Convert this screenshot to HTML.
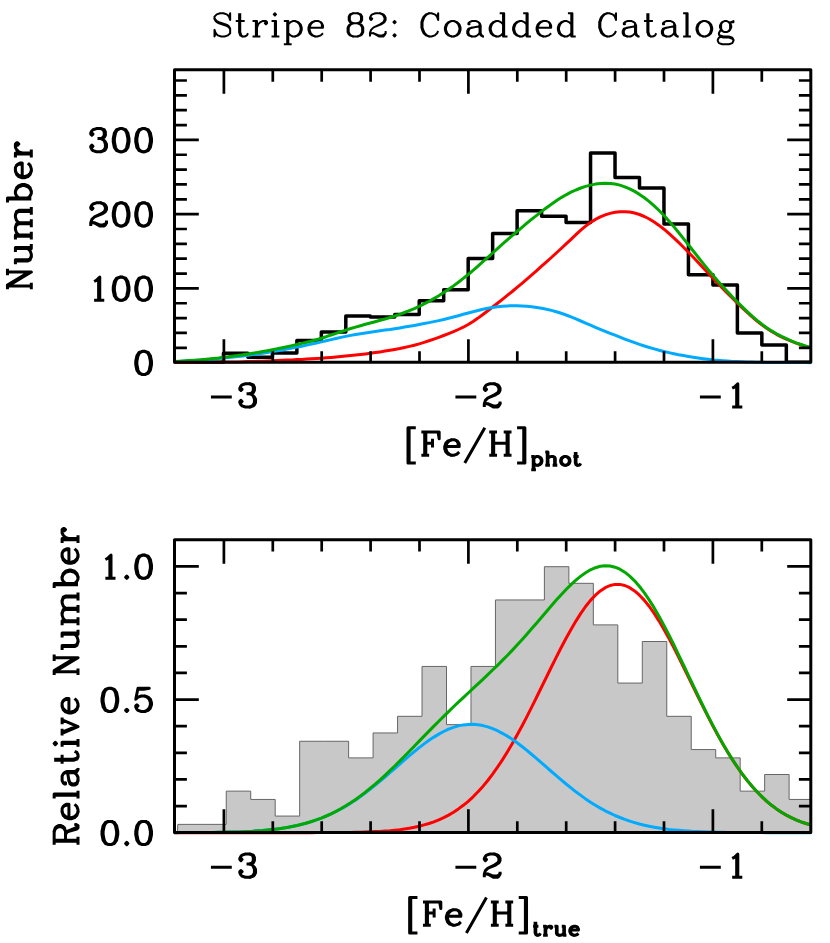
<!DOCTYPE html>
<html><head><meta charset="utf-8"><title>Stripe 82: Coadded Catalog</title>
<style>html,body{margin:0;padding:0;background:#fff;font-family:"Liberation Sans",sans-serif}svg{display:block}</style></head>
<body>
<svg width="830" height="943" viewBox="0 0 830 943">
<rect width="830" height="943" fill="#fff"/>
<g id="top">
<path d="M174.5 362.3L223.45 362.3L223.45 353.3L247.92 353.3L247.92 357.3L272.39 357.3L272.39 352.9L296.87 352.9L296.87 340.4L321.34 340.4L321.34 332L345.81 332L345.81 315.9L370.28 315.9L370.28 317L394.76 317L394.76 314.5L419.23 314.5L419.23 300.7L443.7 300.7L443.7 289.8L468.18 289.8L468.18 258.6L492.65 258.6L492.65 233.4L517.12 233.4L517.12 210.8L541.6 210.8L541.6 216.2L566.07 216.2L566.07 222.4L590.54 222.4L590.54 152.9L615.02 152.9L615.02 177.6L639.49 177.6L639.49 188L663.96 188L663.96 224L688.43 224L688.43 274.7L712.91 274.7L712.91 285.1L737.38 285.1L737.38 333L761.85 333L761.85 344.9L786.33 344.9L786.33 362.3L810.8 362.3" fill="none" stroke="#000" stroke-width="3.5" stroke-linejoin="round" stroke-linecap="butt"/>
<path d="M174.5 362.5L179.4 362.5L184.3 362.4L189.2 362.4L194.1 362.4L199 362.3L203.9 362.3L208.8 362.3L213.7 362.2L218.6 362.2L223.4 362.1L228.3 362L233.2 362L238.1 361.9L243 361.8L247.9 361.6L252.8 361.5L257.7 361.3L262.6 361.2L267.5 361L272.4 360.8L277.3 360.6L282.2 360.3L287.1 360.1L292 359.9L296.9 359.6L301.8 359.4L306.7 359.1L311.5 358.8L316.4 358.5L321.3 358.2L326.2 357.8L331.1 357.4L336 357L340.9 356.5L345.8 356L350.7 355.5L355.6 355L360.5 354.5L365.4 353.9L370.3 353.3L375.2 352.6L380.1 351.9L385 351.1L389.9 350.3L394.8 349.4L399.7 348.5L404.5 347.5L409.4 346.4L414.3 345.2L419.2 343.9L424.1 342.4L429 340.8L433.9 339.1L438.8 337.3L443.7 335.5L448.6 333.6L453.5 331.7L458.4 329.5L463.3 327.2L468.2 324.5L473.1 321.5L478 318.1L482.9 314.5L487.8 310.8L492.6 307L497.5 303.2L502.4 299.3L507.3 295.4L512.2 291.5L517.1 287.4L522 283.3L526.9 279.1L531.8 274.9L536.7 270.6L541.6 266.2L546.5 261.9L551.4 257.5L556.3 253L561.2 248.5L566.1 243.9L571 239.3L575.9 234.7L580.8 230.2L585.6 226.1L590.5 222.5L595.4 219.4L600.3 216.9L605.2 214.9L610.1 213.4L615 212.3L619.9 211.8L624.8 211.7L629.7 212.1L634.6 213L639.5 214.5L644.4 216.5L649.3 219L654.2 222L659.1 225.4L664 229.2L668.9 233.4L673.8 237.8L678.6 242.4L683.5 247.2L688.4 252.2L693.3 257.3L698.2 262.5L703.1 267.7L708 273L712.9 278.2L717.8 283.3L722.7 288.4L727.6 293.4L732.5 298.3L737.4 303.1L742.3 307.9L747.2 312.5L752.1 316.9L757 321L761.9 324.9L766.7 328.3L771.6 331.5L776.5 334.3L781.4 336.9L786.3 339.2L791.2 341.2L796.1 343.1L801 344.8L805.9 346.4L810.8 347.8" fill="none" stroke="#ff0000" stroke-width="3" stroke-linejoin="round" stroke-linecap="butt"/>
<path d="M174.5 361.6L179.4 361.4L184.3 361.1L189.2 360.8L194.1 360.5L199 360.2L203.9 359.8L208.8 359.4L213.7 358.9L218.6 358.5L223.4 358L228.3 357.5L233.2 357L238.1 356.5L243 355.9L247.9 355.3L252.8 354.6L257.7 353.9L262.6 353.2L267.5 352.4L272.4 351.6L277.3 350.8L282.2 349.9L287.1 349L292 348.1L296.9 347.1L301.8 346.2L306.7 345.1L311.5 344.1L316.4 343L321.3 341.9L326.2 340.8L331.1 339.6L336 338.5L340.9 337.4L345.8 336.4L350.7 335.4L355.6 334.5L360.5 333.7L365.4 332.9L370.3 332.2L375.2 331.5L380.1 330.8L385 330.1L389.9 329.5L394.8 328.7L399.7 327.9L404.5 327.1L409.4 326.3L414.3 325.4L419.2 324.5L424.1 323.6L429 322.6L433.9 321.6L438.8 320.6L443.7 319.5L448.6 318.2L453.5 317L458.4 315.7L463.3 314.3L468.2 313L473.1 311.7L478 310.5L482.9 309.3L487.8 308.3L492.6 307.4L497.5 306.8L502.4 306.2L507.3 305.9L512.2 305.7L517.1 305.7L522 305.9L526.9 306.2L531.8 306.7L536.7 307.4L541.6 308.2L546.5 309.2L551.4 310.4L556.3 311.7L561.2 313.3L566.1 315L571 316.9L575.9 318.9L580.8 321L585.6 323.1L590.5 325.2L595.4 327.3L600.3 329.3L605.2 331.3L610.1 333.3L615 335.2L619.9 337.2L624.8 339.1L629.7 340.9L634.6 342.7L639.5 344.4L644.4 346L649.3 347.5L654.2 348.9L659.1 350.2L664 351.5L668.9 352.6L673.8 353.7L678.6 354.7L683.5 355.6L688.4 356.5L693.3 357.3L698.2 358L703.1 358.7L708 359.3L712.9 359.9L717.8 360.3L722.7 360.7L727.6 361.1L732.5 361.4L737.4 361.6L742.3 361.8L747.2 362L752.1 362.1L757 362.2L761.9 362.3L766.7 362.4L771.6 362.5L776.5 362.5L781.4 362.5L786.3 362.6L791.2 362.6L796.1 362.6L801 362.6L805.9 362.6L810.8 362.7" fill="none" stroke="#00aaff" stroke-width="3" stroke-linejoin="round" stroke-linecap="butt"/>
<path d="M174.5 361.4L179.4 361.2L184.3 360.9L189.2 360.6L194.1 360.3L199 359.9L203.9 359.4L208.8 358.9L213.7 358.4L218.6 357.9L223.4 357.3L228.3 356.7L233.2 356.1L238.1 355.5L243 354.8L247.9 354.1L252.8 353.3L257.7 352.5L262.6 351.6L267.5 350.7L272.4 349.7L277.3 348.8L282.2 347.7L287.1 346.7L292 345.6L296.9 344.5L301.8 343.4L306.7 342.2L311.5 341L316.4 339.7L321.3 338.2L326.2 336.7L331.1 335L336 333.3L340.9 331.7L345.8 330.1L350.7 328.5L355.6 327.1L360.5 325.7L365.4 324.3L370.3 323L375.2 321.7L380.1 320.3L385 319L389.9 317.5L394.8 316L399.7 314.3L404.5 312.5L409.4 310.6L414.3 308.6L419.2 306.3L424.1 303.9L429 301.4L433.9 298.6L438.8 295.7L443.7 292.6L448.6 289.3L453.5 285.9L458.4 282.2L463.3 278.4L468.2 274.5L473.1 270.3L478 266.1L482.9 261.7L487.8 257.4L492.6 253L497.5 248.6L502.4 244.2L507.3 239.9L512.2 235.7L517.1 231.5L522 227.3L526.9 223.2L531.8 219.2L536.7 215.3L541.6 211.4L546.5 207.7L551.4 204.2L556.3 200.8L561.2 197.6L566.1 194.8L571 192.2L575.9 190L580.8 188L585.6 186.4L590.5 185.1L595.4 184.1L600.3 183.5L605.2 183.2L610.1 183.4L615 184L619.9 185.1L624.8 186.8L629.7 188.9L634.6 191.4L639.5 194.4L644.4 197.8L649.3 201.6L654.2 205.9L659.1 210.5L664 215.5L668.9 220.9L673.8 226.6L678.6 232.5L683.5 238.6L688.4 244.8L693.3 251L698.2 257.2L703.1 263.4L708 269.4L712.9 275.3L717.8 281L722.7 286.5L727.6 291.8L732.5 297L737.4 302L742.3 306.9L747.2 311.6L752.1 316.1L757 320.3L761.9 324.2L766.7 327.7L771.6 330.9L776.5 333.8L781.4 336.4L786.3 338.7L791.2 340.9L796.1 342.8L801 344.5L805.9 346.1L810.8 347.7" fill="none" stroke="#00a800" stroke-width="3" stroke-linejoin="round" stroke-linecap="butt"/>
<rect x="174.5" y="69.8" width="636.3" height="292.5" fill="none" stroke="#000" stroke-width="3" stroke-linejoin="round"/>
<path d="M223.9 362.3V339.2M223.9 69.8V93.8M272.8 362.3V351.2M272.8 69.8V81.7M321.7 362.3V351.2M321.7 69.8V81.7M370.6 362.3V351.2M370.6 69.8V81.7M419.5 362.3V351.2M419.5 69.8V81.7M468.4 362.3V339.2M468.4 69.8V93.8M517.3 362.3V351.2M517.3 69.8V81.7M566.2 362.3V351.2M566.2 69.8V81.7M615.1 362.3V351.2M615.1 69.8V81.7M664 362.3V351.2M664 69.8V81.7M712.9 362.3V339.2M712.9 69.8V93.8M761.8 362.3V351.2M761.8 69.8V81.7M174.5 288.4H198.8M810.8 288.4H787.2M174.5 214.15H198.8M810.8 214.15H787.2M174.5 139.9H198.8M810.8 139.9H787.2M174.5 347.8H186.9M810.8 347.8H798.9M174.5 332.95H186.9M810.8 332.95H798.9M174.5 318.1H186.9M810.8 318.1H798.9M174.5 303.25H186.9M810.8 303.25H798.9M174.5 273.55H186.9M810.8 273.55H798.9M174.5 258.7H186.9M810.8 258.7H798.9M174.5 243.85H186.9M810.8 243.85H798.9M174.5 229H186.9M810.8 229H798.9M174.5 199.3H186.9M810.8 199.3H798.9M174.5 184.45H186.9M810.8 184.45H798.9M174.5 169.6H186.9M810.8 169.6H798.9M174.5 154.75H186.9M810.8 154.75H798.9M174.5 125.05H186.9M810.8 125.05H798.9M174.5 110.2H186.9M810.8 110.2H798.9M174.5 95.35H186.9M810.8 95.35H798.9M174.5 80.5H186.9M810.8 80.5H798.9" fill="none" stroke="#000" stroke-width="2.7" stroke-linecap="butt"/>
</g>
<g id="bot">
<path d="M177.44 832.4L177.79 824.39L226.24 824.39L226.24 791.14L250.72 791.14L250.72 799.45L275.19 799.45L275.19 816.07L299.66 816.07L299.66 741.26L324.14 741.26L324.14 741.26L348.61 741.26L348.61 757.89L373.08 757.89L373.08 732.95L397.56 732.95L397.56 716.32L422.03 716.32L422.03 666.45L446.5 666.45L446.5 724.64L470.97 724.64L470.97 666.45L495.45 666.45L495.45 599.95L519.92 599.95L519.92 599.95L544.39 599.95L544.39 566.7L568.87 566.7L568.87 583.32L593.34 583.32L593.34 624.89L617.81 624.89L617.81 683.07L642.29 683.07L642.29 641.51L666.76 641.51L666.76 716.32L691.23 716.32L691.23 749.57L715.71 749.57L715.71 757.89L740.18 757.89L740.18 791.14L764.65 791.14L764.65 774.51L789.12 774.51L789.12 799.45L810.8 799.45L810.8 832.4Z" fill="#c8c8c8" stroke="#666" stroke-width="1" stroke-linejoin="miter"/>
<path d="M174.5 832.7L179.4 832.7L184.3 832.7L189.2 832.7L194.1 832.7L199 832.7L203.9 832.7L208.8 832.7L213.7 832.7L218.6 832.7L223.4 832.7L228.3 832.7L233.2 832.7L238.1 832.7L243 832.7L247.9 832.7L252.8 832.7L257.7 832.7L262.6 832.7L267.5 832.7L272.4 832.7L277.3 832.7L282.2 832.7L287.1 832.7L292 832.7L296.9 832.7L301.8 832.7L306.7 832.7L311.5 832.7L316.4 832.6L321.3 832.6L326.2 832.6L331.1 832.6L336 832.5L340.9 832.5L345.8 832.4L350.7 832.4L355.6 832.3L360.5 832.2L365.4 832L370.3 831.8L375.2 831.6L380.1 831.4L385 831L389.9 830.7L394.8 830.2L399.7 829.7L404.5 829L409.4 828.2L414.3 827.3L419.2 826.2L424.1 824.9L429 823.5L433.9 821.8L438.8 819.8L443.7 817.6L448.6 815.1L453.5 812.2L458.4 808.9L463.3 805.3L468.2 801.3L473.1 796.8L478 791.8L482.9 786.4L487.8 780.5L492.6 774.1L497.5 767.2L502.4 759.9L507.3 752L512.2 743.8L517.1 735.1L522 726L526.9 716.6L531.8 706.9L536.7 697L541.6 687L546.5 677L551.4 667L556.3 657.1L561.2 647.5L566.1 638.2L571 629.4L575.9 621.1L580.8 613.4L585.6 606.5L590.5 600.4L595.4 595.2L600.3 590.9L605.2 587.7L610.1 585.5L615 584.4L619.9 584.4L624.8 585.5L629.7 587.7L634.6 590.9L639.5 595.2L644.4 600.4L649.3 606.5L654.2 613.4L659.1 621.1L664 629.4L668.9 638.2L673.8 647.5L678.6 657.1L683.5 667L688.4 677L693.3 687L698.2 697L703.1 706.9L708 716.6L712.9 726L717.8 735.1L722.7 743.8L727.6 752L732.5 759.9L737.4 767.2L742.3 774.1L747.2 780.5L752.1 786.4L757 791.8L761.9 796.8L766.7 801.3L771.6 805.3L776.5 808.9L781.4 812.2L786.3 815.1L791.2 817.6L796.1 819.8L801 821.8L805.9 823.5L810.8 824.9" fill="none" stroke="#ff0000" stroke-width="3" stroke-linejoin="round" stroke-linecap="butt"/>
<path d="M174.5 832.7L179.4 832.6L184.3 832.6L189.2 832.6L194.1 832.6L199 832.6L203.9 832.5L208.8 832.5L213.7 832.4L218.6 832.3L223.4 832.2L228.3 832.1L233.2 832L238.1 831.9L243 831.7L247.9 831.4L252.8 831.2L257.7 830.8L262.6 830.5L267.5 830L272.4 829.5L277.3 828.9L282.2 828.2L287.1 827.5L292 826.5L296.9 825.5L301.8 824.4L306.7 823L311.5 821.6L316.4 819.9L321.3 818.1L326.2 816.1L331.1 813.9L336 811.5L340.9 808.9L345.8 806.1L350.7 803.1L355.6 799.9L360.5 796.5L365.4 792.9L370.3 789.1L375.2 785.2L380.1 781.1L385 777L389.9 772.7L394.8 768.5L399.7 764.2L404.5 759.9L409.4 755.7L414.3 751.6L419.2 747.6L424.1 743.9L429 740.3L433.9 737.1L438.8 734.1L443.7 731.5L448.6 729.2L453.5 727.4L458.4 725.9L463.3 724.9L468.2 724.4L473.1 724.3L478 724.7L482.9 725.6L487.8 726.9L492.6 728.6L497.5 730.7L502.4 733.3L507.3 736.1L512.2 739.3L517.1 742.8L522 746.5L526.9 750.4L531.8 754.5L536.7 758.6L541.6 762.9L546.5 767.2L551.4 771.5L556.3 775.7L561.2 779.9L566.1 784L571 787.9L575.9 791.8L580.8 795.4L585.6 798.9L590.5 802.2L595.4 805.2L600.3 808.1L605.2 810.8L610.1 813.2L615 815.5L619.9 817.5L624.8 819.4L629.7 821.1L634.6 822.6L639.5 824L644.4 825.2L649.3 826.3L654.2 827.2L659.1 828L664 828.7L668.9 829.4L673.8 829.9L678.6 830.3L683.5 830.7L688.4 831.1L693.3 831.4L698.2 831.6L703.1 831.8L708 832L712.9 832.1L717.8 832.2L722.7 832.3L727.6 832.4L732.5 832.5L737.4 832.5L742.3 832.5L747.2 832.6L752.1 832.6L757 832.6L761.9 832.6L766.7 832.7L771.6 832.7L776.5 832.7L781.4 832.7L786.3 832.7L791.2 832.7L796.1 832.7L801 832.7L805.9 832.7L810.8 832.7" fill="none" stroke="#00aaff" stroke-width="3" stroke-linejoin="round" stroke-linecap="butt"/>
<path d="M174.5 832.7L179.4 832.6L184.3 832.6L189.2 832.6L194.1 832.6L199 832.6L203.9 832.5L208.8 832.5L213.7 832.4L218.6 832.3L223.4 832.2L228.3 832.1L233.2 832L238.1 831.9L243 831.7L247.9 831.4L252.8 831.2L257.7 830.8L262.6 830.5L267.5 830L272.4 829.5L277.3 828.9L282.2 828.2L287.1 827.4L292 826.5L296.9 825.5L301.8 824.3L306.7 823L311.5 821.5L316.4 819.9L321.3 818.1L326.2 816L331.1 813.8L336 811.4L340.9 808.7L345.8 805.8L350.7 802.8L355.6 799.5L360.5 795.9L365.4 792.2L370.3 788.2L375.2 784.1L380.1 779.8L385 775.3L389.9 770.7L394.8 766L399.7 761.1L404.5 756.2L409.4 751.2L414.3 746.2L419.2 741.1L424.1 736.1L429 731.1L433.9 726.1L438.8 721.2L443.7 716.4L448.6 711.6L453.5 706.8L458.4 702.2L463.3 697.6L468.2 693L473.1 688.4L478 683.9L482.9 679.3L487.8 674.7L492.6 670L497.5 665.3L502.4 660.4L507.3 655.5L512.2 650.4L517.1 645.1L522 639.8L526.9 634.3L531.8 628.6L536.7 623L541.6 617.2L546.5 611.5L551.4 605.8L556.3 600.1L561.2 594.7L566.1 589.5L571 584.6L575.9 580.2L580.8 576.1L585.6 572.7L590.5 569.8L595.4 567.7L600.3 566.3L605.2 565.7L610.1 566L615 567.2L619.9 569.2L624.8 572.2L629.7 576.1L634.6 580.8L639.5 586.5L644.4 592.9L649.3 600.1L654.2 607.9L659.1 616.4L664 625.4L668.9 634.9L673.8 644.7L678.6 654.8L683.5 665L688.4 675.4L693.3 685.7L698.2 695.9L703.1 706L708 715.8L712.9 725.4L717.8 734.6L722.7 743.4L727.6 751.7L732.5 759.6L737.4 767L742.3 774L747.2 780.4L752.1 786.3L757 791.8L761.9 796.7L766.7 801.2L771.6 805.3L776.5 808.9L781.4 812.2L786.3 815L791.2 817.6L796.1 819.8L801 821.8L805.9 823.5L810.8 824.9" fill="none" stroke="#00a800" stroke-width="3" stroke-linejoin="round" stroke-linecap="butt"/>
<rect x="174.5" y="539.7" width="636.3" height="292.7" fill="none" stroke="#000" stroke-width="3" stroke-linejoin="round"/>
<path d="M223.9 832.4V809.3M223.9 539.7V563.7M272.8 832.4V821.3M272.8 539.7V551.6M321.7 832.4V821.3M321.7 539.7V551.6M370.6 832.4V821.3M370.6 539.7V551.6M419.5 832.4V821.3M419.5 539.7V551.6M468.4 832.4V809.3M468.4 539.7V563.7M517.3 832.4V821.3M517.3 539.7V551.6M566.2 832.4V821.3M566.2 539.7V551.6M615.1 832.4V821.3M615.1 539.7V551.6M664 832.4V821.3M664 539.7V551.6M712.9 832.4V809.3M712.9 539.7V563.7M761.8 832.4V821.3M761.8 539.7V551.6M174.5 699.55H198.8M810.8 699.55H787.2M174.5 566.4H198.8M810.8 566.4H787.2M174.5 806.07H186.9M810.8 806.07H798.9M174.5 779.44H186.9M810.8 779.44H798.9M174.5 752.81H186.9M810.8 752.81H798.9M174.5 726.18H186.9M810.8 726.18H798.9M174.5 672.92H186.9M810.8 672.92H798.9M174.5 646.29H186.9M810.8 646.29H798.9M174.5 619.66H186.9M810.8 619.66H798.9M174.5 593.03H186.9M810.8 593.03H798.9" fill="none" stroke="#000" stroke-width="2.7" stroke-linecap="butt"/>
</g>
<g id="text">
<g fill="none" stroke="#000" stroke-width="2" stroke-linejoin="round"><path d="M230.16 28.77l0 4.42-2.24 2.21-3.35 1.1-3.36 0-3.35-1.1-2.24-2.21M230.16 28.77l-2.24-2.22-2.24-1.1-6.71-2.21-2.23-1.11-1.12-1.1-1.12-2.21M230.16 28.77l-1.12-2.22-1.12-1.1-2.24-1.11-6.71-2.21-2.23-1.1-2.24-2.21M215.62 33.19l-1.12-3.32 0 6.63zM229.04 16.61l1.12-3.31 0 6.63zM229.04 16.61l-2.24-2.21-3.35-1.1-3.36 0-3.35 1.1-2.24 2.21 0 2.21M239.1 13.3l0 18.78 1.12 3.32 2.24 1.1M240.22 13.3l0 18.78 1.12 3.32 1.12 1.1M235.75 21.03l8.95 0M242.46 36.5l2.24 0 2.23-1.1 1.12-2.21M255.88 21.03l0 15.47M257 36.5l0-15.47-4.47 0M252.53 36.5l7.82 0M257 27.66l1.12-3.32 2.23-2.21 2.24-1.1 3.36 0 1.11 1.1 0 1.11-1.11 1.1-1.12-1.1 1.12-1.11M274.89 21.03l0 15.47M276.01 36.5l0-15.47-4.47 0M271.54 36.5l7.83 0M273.78 14.4l1.11-1.1 1.12 1.1-1.12 1.1zM287.2 21.03l0 23.2M288.31 44.23l0-23.2-4.47 0M283.84 44.23l7.83 0M295.02 21.03l3.36 1.1 2.24 2.21 1.12 3.32 0 2.21-1.12 3.32-2.24 2.21-3.36 1.1M295.02 21.03l2.24 1.1 2.24 2.21 1.12 3.32 0 2.21-1.12 3.32-2.24 2.21-2.24 1.1M295.02 21.03l-2.23 0-2.24 1.1-2.24 2.21M295.02 36.5l-2.23 0-2.24-1.1-2.24-2.21M309.56 27.66l13.42 0 0-2.21-1.11-2.21-1.12-1.11M309.56 27.66l1.12-3.32 2.24-2.21 2.24-1.1M309.56 27.66l0 2.21 1.12 3.32 2.24 2.21 2.24 1.1M315.16 21.03l-3.36 1.1-2.24 2.21-1.11 3.32 0 2.21 1.11 3.32 2.24 2.21 3.36 1.1M315.16 21.03l3.35 0 2.24 1.1M315.16 36.5l2.23 0 3.36-1.1 2.23-2.21M321.87 27.66l0-3.32-1.12-2.21M353.18 13.3l4.48 0M353.18 13.3l-3.35 1.1-1.12 2.21 0 3.32 1.12 2.2 3.35 1.11M353.18 13.3l-2.24 1.1-1.11 2.21 0 3.32 1.11 2.2 2.24 1.11M357.66 13.3l3.35 1.1 1.12 2.21 0 3.32-1.12 2.2-3.35 1.11M357.66 13.3l2.23 1.1 1.12 2.21 0 3.32-1.12 2.2-2.23 1.11M353.18 23.24l4.48 0M353.18 23.24l-3.35 1.1-1.12 1.11-1.12 2.21 0 4.42 1.12 2.21 1.12 1.11 3.35 1.1M353.18 23.24l-2.24 1.1-1.11 1.11-1.12 2.21 0 4.42 1.12 2.21 1.11 1.11 2.24 1.1M357.66 23.24l3.35 1.1 1.12 1.11 1.12 2.21 0 4.42-1.12 2.21-1.12 1.11-3.35 1.1M357.66 23.24l2.23 1.1 1.12 1.11 1.12 2.21 0 4.42-1.12 2.21-1.12 1.11-2.23 1.1M353.18 36.5l4.48 0M373.31 33.19l5.59 3.31 4.48 0 1.12-1.1 1.12-2.21M373.31 33.19l5.59 2.21 3.36 0 2.24-1.11 1.12-1.1M373.31 33.19l-2.23 0-1.12 1.1M375.55 26.55l5.59-2.21 3.36-2.21 1.12-2.2 0-2.22-1.12-2.21-1.12-1.1-3.36-1.1M380.02 13.3l-4.47 0-3.36 1.1-1.11 1.1-1.12 2.21 0 1.11 1.12 1.11 1.11-1.11-1.11-1.11M380.02 13.3l2.24 1.1 1.12 1.1 1.12 2.21 0 2.22-1.12 2.2-3.36 2.21-6.71 3.32-2.23 2.21-1.12 3.32 0 3.31M385.62 33.19l0-2.21M393.44 22.13l1.12 1.11 1.12-1.11-1.12-1.1zM393.44 35.4l1.12 1.1 1.12-1.1-1.12-1.11zM429.23 13.3l-3.35 1.1-2.24 2.21-1.12 2.21-1.12 3.31 0 5.53 1.12 3.32 1.12 2.21 2.24 2.21 3.35 1.1M429.23 13.3l-2.23 1.1-2.24 2.21-1.12 2.21-1.12 3.31 0 5.53 1.12 3.32 1.12 2.21 2.24 2.21 2.23 1.1M429.23 13.3l2.24 0 3.35 1.1 2.24 2.21M429.23 36.5l2.24 0 3.35-1.1 2.24-2.21 1.12-2.21M437.06 16.61l1.12 3.32 0-6.63zM451.6 21.03l-3.35 1.1-2.24 2.21-1.12 3.32 0 2.21 1.12 3.32 2.24 2.21 3.35 1.1M451.6 21.03l-2.24 1.1-2.23 2.21-1.12 3.32 0 2.21 1.12 3.32 2.23 2.21 2.24 1.1M451.6 21.03l2.24 0M451.6 36.5l2.24 0M453.84 36.5l3.35-1.1 2.24-2.21 1.12-3.32 0-2.21-1.12-3.32-2.24-2.21-3.35-1.1M453.84 36.5l2.23-1.1 2.24-2.21 1.12-3.32 0-2.21-1.12-3.32-2.24-2.21-2.23-1.1M479.56 23.24l0 9.95M479.56 23.24l1.12 2.21 0 7.74 1.12 2.21 1.12 1.1M479.56 23.24l-1.12-1.11-2.23-1.1-4.48 0-2.23 1.1-1.12 1.11 0 1.1 1.12 0 0-1.1M479.56 33.19l-2.24 2.21-2.23 1.1-3.36 0M479.56 33.19l1.12 2.21 2.24 1.1M471.73 27.66l6.71-1.11 1.12-1.1M471.73 27.66l-3.35 1.11-1.12 2.21 0 2.21 1.12 2.21 3.35 1.1M471.73 27.66l-2.23 1.11-1.12 2.21 0 2.21 1.12 2.21 2.23 1.1M482.92 36.5l1.11 0M503.05 13.3l0 23.2 4.47 0M504.17 36.5l0-23.2-4.48 0M496.34 21.03l-3.36 1.1-2.24 2.21-1.11 3.32 0 2.21 1.11 3.32 2.24 2.21 3.36 1.1M496.34 21.03l-2.24 1.1-2.24 2.21-1.12 3.32 0 2.21 1.12 3.32 2.24 2.21 2.24 1.1M496.34 21.03l2.23 0 2.24 1.1 2.24 2.21M496.34 36.5l2.23 0 2.24-1.1 2.24-2.21M526.53 13.3l0 23.2 4.48 0M527.65 36.5l0-23.2-4.47 0M519.82 21.03l-3.35 1.1-2.24 2.21-1.12 3.32 0 2.21 1.12 3.32 2.24 2.21 3.35 1.1M519.82 21.03l-2.23 1.1-2.24 2.21-1.12 3.32 0 2.21 1.12 3.32 2.24 2.21 2.23 1.1M519.82 21.03l2.24 0 2.24 1.1 2.23 2.21M519.82 36.5l2.24 0 2.24-1.1 2.23-2.21M537.72 27.66l13.42 0 0-2.21-1.12-2.21-1.12-1.11M537.72 27.66l1.12-3.32 2.23-2.21 2.24-1.1M537.72 27.66l0 2.21 1.12 3.32 2.23 2.21 2.24 1.1M543.31 21.03l-3.36 1.1-2.23 2.21-1.12 3.32 0 2.21 1.12 3.32 2.23 2.21 3.36 1.1M543.31 21.03l3.35 0 2.24 1.1M543.31 36.5l2.24 0 3.35-1.1 2.24-2.21M550.02 27.66l0-3.32-1.12-2.21M571.27 13.3l0 23.2 4.47 0M572.39 36.5l0-23.2-4.48 0M564.56 21.03l-3.36 1.1-2.23 2.21-1.12 3.32 0 2.21 1.12 3.32 2.23 2.21 3.36 1.1M564.56 21.03l-2.24 1.1-2.23 2.21-1.12 3.32 0 2.21 1.12 3.32 2.23 2.21 2.24 1.1M564.56 21.03l2.24 0 2.23 1.1 2.24 2.21M564.56 36.5l2.24 0 2.23-1.1 2.24-2.21M607.06 13.3l-3.36 1.1-2.23 2.21-1.12 2.21-1.12 3.31 0 5.53 1.12 3.32 1.12 2.21 2.23 2.21 3.36 1.1M607.06 13.3l-2.24 1.1-2.24 2.21-1.11 2.21-1.12 3.31 0 5.53 1.12 3.32 1.11 2.21 2.24 2.21 2.24 1.1M607.06 13.3l2.24 0 3.35 1.1 2.24 2.21M607.06 36.5l2.24 0 3.35-1.1 2.24-2.21 1.12-2.21M614.89 16.61l1.12 3.32 0-6.63zM635.02 23.24l0 9.95M635.02 23.24l1.12 2.21 0 7.74 1.12 2.21 1.11 1.1M635.02 23.24l-1.12-1.11-2.24-1.1-4.47 0-2.24 1.1-1.12 1.11 0 1.1 1.12 0 0-1.1M635.02 33.19l-2.24 2.21-2.24 1.1-3.35 0M635.02 33.19l1.12 2.21 2.23 1.1M627.19 27.66l6.71-1.11 1.12-1.1M627.19 27.66l-3.36 1.11-1.11 2.21 0 2.21 1.11 2.21 3.36 1.1M627.19 27.66l-2.24 1.11-1.12 2.21 0 2.21 1.12 2.21 2.24 1.1M638.37 36.5l1.12 0M647.32 13.3l0 18.78 1.12 3.32 2.24 1.1M648.44 13.3l0 18.78 1.12 3.32 1.12 1.1M643.97 21.03l8.94 0M650.68 36.5l2.23 0 2.24-1.1 1.12-2.21M674.16 23.24l0 9.95M674.16 23.24l1.12 2.21 0 7.74 1.12 2.21 1.12 1.1M674.16 23.24l-1.12-1.11-2.23-1.1-4.48 0-2.23 1.1-1.12 1.11 0 1.1 1.12 0 0-1.1M674.16 33.19l-2.23 2.21-2.24 1.1-3.36 0M674.16 33.19l1.12 2.21 2.24 1.1M666.33 27.66l6.71-1.11 1.12-1.1M666.33 27.66l-3.35 1.11-1.12 2.21 0 2.21 1.12 2.21 3.35 1.1M666.33 27.66l-2.23 1.11-1.12 2.21 0 2.21 1.12 2.21 2.23 1.1M677.52 36.5l1.12 0M686.46 13.3l0 23.2M687.58 36.5l0-23.2-4.47 0M683.11 36.5l7.83 0M703.24 21.03l-3.35 1.1-2.24 2.21-1.12 3.32 0 2.21 1.12 3.32 2.24 2.21 3.35 1.1M703.24 21.03l-2.24 1.1-2.23 2.21-1.12 3.32 0 2.21 1.12 3.32 2.23 2.21 2.24 1.1M703.24 21.03l2.24 0M703.24 36.5l2.24 0M705.48 36.5l3.35-1.1 2.24-2.21 1.12-3.32 0-2.21-1.12-3.32-2.24-2.21-3.35-1.1M705.48 36.5l2.23-1.1 2.24-2.21 1.12-3.32 0-2.21-1.12-3.32-2.24-2.21-2.23-1.1M722.25 36.5l-3.35 1.1-1.12 2.21 0 1.11 1.12 2.21 3.35 1.1 6.71 0 3.36-1.1 1.12-2.21 0-1.11M718.9 34.29l1.12 2.21 3.35 1.1 5.59 0 3.36 1.11 1.12 1.1M718.9 34.29l1.12 1.11 3.35 1.1 5.59 0 3.36 1.1 1.12 2.21M718.9 34.29l0-1.1 1.12-2.21 1.12-1.11M721.14 29.87l-1.12-2.21 0-2.21 1.12-2.21 1.11-1.11M721.14 29.87l1.11 1.11M722.25 22.13l-1.11 2.21 0 4.43 1.11 2.21M722.25 22.13l2.24-1.1 2.24 0 2.23 1.1M722.25 30.98l2.24 1.1 2.24 0 2.23-1.1M728.96 30.98l1.12-2.21 0-4.43-1.12-2.21M728.96 30.98l1.12-1.11 1.12-2.21 0-2.21-1.12-2.21M728.96 22.13l1.12 1.11M730.08 23.24l1.12-1.11M731.2 22.13l2.24-1.1 0 1.1z" stroke-linecap="butt"/><path d="M214.5 18.82h0M229.04 16.61h0M215.62 33.19h0M230.16 28.77h0M242.46 36.5h0M295.02 36.5h0M295.02 21.03h0M315.16 21.03h0M320.75 22.13h0M309.56 27.66h0M315.16 36.5h0M357.66 13.3h0M353.18 23.24h0M353.18 36.5h0M357.66 23.24h0M357.66 36.5h0M353.18 13.3h0M385.62 33.19h0M373.31 33.19h0M380.02 13.3h0M437.06 16.61h0M429.23 36.5h0M429.23 13.3h0M451.6 36.5h0M453.84 21.03h0M451.6 21.03h0M453.84 36.5h0M471.73 27.66h0M479.56 23.24h0M482.92 36.5h0M479.56 33.19h0M471.73 36.5h0M496.34 21.03h0M496.34 36.5h0M519.82 36.5h0M519.82 21.03h0M543.31 36.5h0M548.9 22.13h0M543.31 21.03h0M537.72 27.66h0M564.56 36.5h0M564.56 21.03h0M607.06 36.5h0M607.06 13.3h0M614.89 16.61h0M635.02 23.24h0M627.19 36.5h0M635.02 33.19h0M638.37 36.5h0M627.19 27.66h0M650.68 36.5h0M666.33 27.66h0M677.52 36.5h0M666.33 36.5h0M674.16 23.24h0M674.16 33.19h0M705.48 21.03h0M703.24 21.03h0M705.48 36.5h0M703.24 36.5h0M722.25 30.98h0M728.96 30.98h0M733.44 39.81h0M722.25 22.13h0M728.96 22.13h0M721.14 29.87h0M731.2 22.13h0M718.9 34.29h0M730.08 23.24h0" stroke-linecap="round"/></g>
<g fill="none" stroke="#000" stroke-width="3" stroke-linejoin="round"><path d="M100.88 151.8l-4.5 0-3.38-1.11-1.12-1.1-1.13-2.21 0-1.11 1.13-1.1 1.12 1.1-1.12 1.11M100.88 151.8l3.37-1.11 1.13-1.1 1.12-2.21 0-3.32-1.12-2.21-2.26-2.21-2.24-1.1M100.88 151.8l2.24-1.11 1.13-1.1 1.13-2.21 0-3.32-1.13-3.31M100.88 128.59l-4.5 0-3.38 1.11-1.12 1.1-1.13 2.21 0 1.11 1.13 1.1 1.12-1.1-1.12-1.11M100.88 128.59l3.37 1.11 1.13 2.21 0 3.31-1.13 2.21-3.37 1.11M100.88 128.59l2.24 1.11 1.13 2.21 0 3.31-1.13 2.21-2.24 1.11M100.88 138.54l-3.38 0M120 128.59l-3.38 1.11-2.24 3.31-1.13 5.53 0 3.31 1.13 5.53 2.24 3.31 3.38 1.11M120 128.59l-2.25 1.11-1.13 1.1-1.12 2.21-1.12 5.53 0 3.31 1.12 5.53 1.12 2.21 1.13 1.1 2.25 1.11M120 128.59l2.25 0M120 151.8l2.25 0M122.25 151.8l3.37-1.11 2.26-3.31 1.12-5.53 0-3.31-1.12-5.53-2.26-3.31-3.37-1.11M122.25 151.8l2.25-1.11 1.12-1.1 1.13-2.21 1.13-5.53 0-3.31-1.13-5.53-1.13-2.21-1.12-1.1-2.25-1.11M142.5 128.59l-3.38 1.11-2.24 3.31-1.13 5.53 0 3.31 1.13 5.53 2.24 3.31 3.38 1.11M142.5 128.59l-2.25 1.11-1.13 1.1-1.12 2.21-1.12 5.53 0 3.31 1.12 5.53 1.12 2.21 1.13 1.1 2.25 1.11M142.5 128.59l2.25 0M142.5 151.8l2.25 0M144.75 151.8l3.37-1.11 2.26-3.31 1.12-5.53 0-3.31-1.12-5.53-2.26-3.31-3.37-1.11M144.75 151.8l2.25-1.11 1.12-1.1 1.13-2.21 1.13-5.53 0-3.31-1.13-5.53-1.13-2.21-1.12-1.1-2.25-1.11" stroke-linecap="butt"/><path d="M100.88 138.54h0M100.88 151.8h0M100.88 128.59h0M122.25 151.8h0M122.25 128.59h0M120 151.8h0M120 128.59h0M142.5 128.59h0M144.75 151.8h0M144.75 128.59h0M142.5 151.8h0" stroke-linecap="round"/></g>
<g fill="none" stroke="#000" stroke-width="3" stroke-linejoin="round"><path d="M94.12 222.73l5.63 3.32 4.5 0 1.13-1.11 1.12-2.21M94.12 222.73l5.63 2.21 3.37 0 2.26-1.1 1.12-1.11M94.12 222.73l-2.24 0-1.13 1.11M96.38 216.1l5.62-2.21 3.38-2.21 1.12-2.21 0-2.21-1.12-2.21-1.13-1.1-3.37-1.11M100.88 202.84l-4.5 0-3.38 1.11-1.12 1.1-1.13 2.21 0 1.11 1.13 1.1 1.12-1.1-1.12-1.11M100.88 202.84l2.24 1.11 1.13 1.1 1.13 2.21 0 2.21-1.13 2.21-3.37 2.21-6.76 3.32-2.24 2.21-1.13 3.31 0 3.32M106.5 222.73l0-2.21M120 202.84l-3.38 1.11-2.24 3.31-1.13 5.53 0 3.31 1.13 5.53 2.24 3.31 3.38 1.11M120 202.84l-2.25 1.11-1.13 1.1-1.12 2.21-1.12 5.53 0 3.31 1.12 5.53 1.12 2.21 1.13 1.1 2.25 1.11M120 202.84l2.25 0M120 226.05l2.25 0M122.25 226.05l3.37-1.11 2.26-3.31 1.12-5.53 0-3.31-1.12-5.53-2.26-3.31-3.37-1.11M122.25 226.05l2.25-1.11 1.12-1.1 1.13-2.21 1.13-5.53 0-3.31-1.13-5.53-1.13-2.21-1.12-1.1-2.25-1.11M142.5 202.84l-3.38 1.11-2.24 3.31-1.13 5.53 0 3.31 1.13 5.53 2.24 3.31 3.38 1.11M142.5 202.84l-2.25 1.11-1.13 1.1-1.12 2.21-1.12 5.53 0 3.31 1.12 5.53 1.12 2.21 1.13 1.1 2.25 1.11M142.5 202.84l2.25 0M142.5 226.05l2.25 0M144.75 226.05l3.37-1.11 2.26-3.31 1.12-5.53 0-3.31-1.12-5.53-2.26-3.31-3.37-1.11M144.75 226.05l2.25-1.11 1.12-1.1 1.13-2.21 1.13-5.53 0-3.31-1.13-5.53-1.13-2.21-1.12-1.1-2.25-1.11" stroke-linecap="butt"/><path d="M106.5 222.73h0M94.12 222.73h0M100.88 202.84h0M122.25 226.05h0M122.25 202.84h0M120 226.05h0M120 202.84h0M142.5 202.84h0M144.75 226.05h0M144.75 202.84h0M142.5 226.05h0" stroke-linecap="round"/></g>
<g fill="none" stroke="#000" stroke-width="3" stroke-linejoin="round"><path d="M99.75 300.3l0-23.21-3.37 3.32-2.26 1.1M98.62 278.2l0 22.1M94.12 300.3l10.13 0M120 277.09l-3.38 1.11-2.24 3.31-1.13 5.53 0 3.31 1.13 5.53 2.24 3.31 3.38 1.11M120 277.09l-2.25 1.11-1.13 1.1-1.12 2.21-1.12 5.53 0 3.31 1.12 5.53 1.12 2.21 1.13 1.1 2.25 1.11M120 277.09l2.25 0M120 300.3l2.25 0M122.25 300.3l3.37-1.11 2.26-3.31 1.12-5.53 0-3.31-1.12-5.53-2.26-3.31-3.37-1.11M122.25 300.3l2.25-1.11 1.12-1.1 1.13-2.21 1.13-5.53 0-3.31-1.13-5.53-1.13-2.21-1.12-1.1-2.25-1.11M142.5 277.09l-3.38 1.11-2.24 3.31-1.13 5.53 0 3.31 1.13 5.53 2.24 3.31 3.38 1.11M142.5 277.09l-2.25 1.11-1.13 1.1-1.12 2.21-1.12 5.53 0 3.31 1.12 5.53 1.12 2.21 1.13 1.1 2.25 1.11M142.5 277.09l2.25 0M142.5 300.3l2.25 0M144.75 300.3l3.37-1.11 2.26-3.31 1.12-5.53 0-3.31-1.12-5.53-2.26-3.31-3.37-1.11M144.75 300.3l2.25-1.11 1.12-1.1 1.13-2.21 1.13-5.53 0-3.31-1.13-5.53-1.13-2.21-1.12-1.1-2.25-1.11" stroke-linecap="butt"/><path d="M122.25 300.3h0M122.25 277.09h0M120 300.3h0M120 277.09h0M142.5 277.09h0M144.75 300.3h0M144.75 277.09h0M142.5 300.3h0" stroke-linecap="round"/></g>
<g fill="none" stroke="#000" stroke-width="3" stroke-linejoin="round"><path d="M142.5 351.34l-3.38 1.11-2.24 3.31-1.13 5.53 0 3.31 1.13 5.53 2.24 3.31 3.38 1.11M142.5 351.34l-2.25 1.11-1.13 1.1-1.12 2.21-1.12 5.53 0 3.31 1.12 5.53 1.12 2.21 1.13 1.1 2.25 1.11M142.5 351.34l2.25 0M142.5 374.55l2.25 0M144.75 374.55l3.37-1.11 2.26-3.31 1.12-5.53 0-3.31-1.12-5.53-2.26-3.31-3.37-1.11M144.75 374.55l2.25-1.11 1.12-1.1 1.13-2.21 1.13-5.53 0-3.31-1.13-5.53-1.13-2.21-1.12-1.1-2.25-1.11" stroke-linecap="butt"/><path d="M144.75 351.34h0M142.5 374.55h0M142.5 351.34h0M144.75 374.55h0" stroke-linecap="round"/></g>
<g fill="none" stroke="#000" stroke-width="3" stroke-linejoin="round"><path d="M111 578.3l0-23.2-3.38 3.31-2.24 1.11M109.88 556.2l0 22.1M105.38 578.3l10.12 0M125.62 577.2l1.13-1.11 1.13 1.11-1.13 1.1zM142.5 555.1l-3.38 1.1-2.24 3.32-1.13 5.52 0 3.32 1.13 5.52 2.24 3.32 3.38 1.1M142.5 555.1l-2.25 1.1-1.13 1.11-1.12 2.21-1.12 5.52 0 3.32 1.12 5.52 1.12 2.21 1.13 1.11 2.25 1.1M142.5 555.1l2.25 0M142.5 578.3l2.25 0M144.75 578.3l3.37-1.1 2.26-3.32 1.12-5.52 0-3.32-1.12-5.52-2.26-3.32-3.37-1.1M144.75 578.3l2.25-1.1 1.12-1.11 1.13-2.21 1.13-5.52 0-3.32-1.13-5.52-1.13-2.21-1.12-1.11-2.25-1.1" stroke-linecap="butt"/><path d="M142.5 578.3h0M144.75 555.1h0M142.5 555.1h0M144.75 578.3h0" stroke-linecap="round"/></g>
<g fill="none" stroke="#000" stroke-width="3" stroke-linejoin="round"><path d="M108.75 688.25l-3.37 1.1-2.26 3.32-1.12 5.52 0 3.31 1.12 5.53 2.26 3.32 3.37 1.1M108.75 688.25l-2.25 1.1-1.12 1.11-1.13 2.21-1.13 5.52 0 3.31 1.13 5.53 1.13 2.21 1.12 1.11 2.25 1.1M108.75 688.25l2.25 0M108.75 711.45l2.25 0M111 711.45l3.38-1.1 2.24-3.32 1.13-5.53 0-3.31-1.13-5.52-2.24-3.32-3.38-1.1M111 711.45l2.25-1.1 1.13-1.11 1.12-2.21 1.12-5.53 0-3.31-1.12-5.52-1.12-2.21-1.13-1.11-2.25-1.1M125.62 710.35l1.13-1.11 1.13 1.11-1.13 1.1zM138 689.35l5.62 0 5.63-1.1-11.25 0-2.25 11.05 2.25-2.21 3.38-1.11 3.37 0M144.75 711.45l3.37-1.1 2.26-2.22 1.12-3.31 0-2.21-1.12-3.31-2.26-2.21-3.37-1.11M144.75 711.45l-3.37 0-3.38-1.1-1.12-1.11-1.13-2.21 0-1.1 1.13-1.11 1.12 1.11-1.12 1.1M144.75 711.45l2.25-1.1 2.25-2.22 1.13-3.31 0-2.21-1.13-3.31-2.25-2.21-2.25-1.11" stroke-linecap="butt"/><path d="M111 688.25h0M108.75 711.45h0M108.75 688.25h0M111 711.45h0M144.75 695.98h0M144.75 711.45h0" stroke-linecap="round"/></g>
<g fill="none" stroke="#000" stroke-width="3" stroke-linejoin="round"><path d="M108.75 821.39l-3.37 1.11-2.26 3.32-1.12 5.52 0 3.31 1.12 5.53 2.26 3.32 3.37 1.1M108.75 821.39l-2.25 1.11-1.12 1.11-1.13 2.21-1.13 5.52 0 3.31 1.13 5.53 1.13 2.21 1.12 1.11 2.25 1.1M108.75 821.39l2.25 0M108.75 844.6l2.25 0M111 844.6l3.38-1.1 2.24-3.32 1.13-5.53 0-3.31-1.13-5.52-2.24-3.32-3.38-1.11M111 844.6l2.25-1.1 1.13-1.11 1.12-2.21 1.12-5.53 0-3.31-1.12-5.52-1.12-2.21-1.13-1.11-2.25-1.11M125.62 843.5l1.13-1.11 1.13 1.11-1.13 1.1zM142.5 821.39l-3.38 1.11-2.24 3.32-1.13 5.52 0 3.31 1.13 5.53 2.24 3.32 3.38 1.1M142.5 821.39l-2.25 1.11-1.13 1.11-1.12 2.21-1.12 5.52 0 3.31 1.12 5.53 1.12 2.21 1.13 1.11 2.25 1.1M142.5 821.39l2.25 0M142.5 844.6l2.25 0M144.75 844.6l3.37-1.1 2.26-3.32 1.12-5.53 0-3.31-1.12-5.52-2.26-3.32-3.37-1.11M144.75 844.6l2.25-1.1 1.12-1.11 1.13-2.21 1.13-5.53 0-3.31-1.13-5.52-1.13-2.21-1.12-1.11-2.25-1.11" stroke-linecap="butt"/><path d="M111 821.39h0M108.75 844.6h0M108.75 821.39h0M111 844.6h0M142.5 844.6h0M144.75 821.39h0M142.5 821.39h0M144.75 844.6h0" stroke-linecap="round"/></g>
<g fill="none" stroke="#000" stroke-width="3" stroke-linejoin="round"><path d="M210.94 397.06l20.85 0M249.93 407l-4.5 0-3.38-1.11-1.12-1.1-1.13-2.21 0-1.1 1.13-1.11 1.12 1.11-1.12 1.1M249.93 407l3.37-1.11 1.13-1.1 1.12-2.21 0-3.32-1.12-2.2-2.25-2.21-2.25-1.11M249.93 407l2.25-1.11 1.12-1.1 1.13-2.21 0-3.32-1.13-3.31M249.93 383.8l-4.5 0-3.38 1.1-1.12 1.1-1.13 2.21 0 1.11 1.13 1.11 1.12-1.11-1.12-1.11M249.93 383.8l3.37 1.1 1.13 2.21 0 3.32-1.13 2.2-3.37 1.11M249.93 383.8l2.25 1.1 1.12 2.21 0 3.32-1.12 2.2-2.25 1.11M249.93 393.74l-3.38 0" stroke-linecap="butt"/><path d="M249.93 407h0M249.93 383.8h0M249.93 393.74h0" stroke-linecap="round"/></g>
<g fill="none" stroke="#000" stroke-width="3" stroke-linejoin="round"><path d="M455.43 397.06l20.86 0M487.68 403.69l5.62 3.31 4.5 0 1.13-1.11 1.12-2.2M487.68 403.69l5.62 2.2 3.38 0 2.25-1.1 1.12-1.1M487.68 403.69l-2.25 0-1.13 1.1M489.93 397.06l5.62-2.21 3.38-2.22 1.12-2.2 0-2.22-1.12-2.21-1.13-1.1-3.37-1.1M494.43 383.8l-4.5 0-3.38 1.1-1.12 1.1-1.13 2.21 0 1.11 1.13 1.11 1.12-1.11-1.12-1.11M494.43 383.8l2.25 1.1 1.12 1.1 1.13 2.21 0 2.22-1.13 2.2-3.37 2.22-6.75 3.31-2.25 2.21-1.13 3.32 0 3.31M500.05 403.69l0-2.21" stroke-linecap="butt"/><path d="M487.68 403.69h0M500.05 403.69h0M494.43 383.8h0" stroke-linecap="round"/></g>
<g fill="none" stroke="#000" stroke-width="3" stroke-linejoin="round"><path d="M699.93 397.06l20.86 0M737.8 407l0-23.2-3.37 3.31-2.25 1.1M736.68 384.9l0 22.1M732.18 407l10.12 0" stroke-linecap="butt"/></g>
<g fill="none" stroke="#000" stroke-width="3" stroke-linejoin="round"><path d="M210.94 867.25l20.85 0M249.93 877.2l-4.5 0-3.38-1.1-1.12-1.11-1.13-2.21 0-1.1 1.13-1.11 1.12 1.11-1.12 1.1M249.93 877.2l3.37-1.1 1.13-1.11 1.12-2.21 0-3.31-1.12-2.22-2.25-2.2-2.25-1.11M249.93 877.2l2.25-1.1 1.12-1.11 1.13-2.21 0-3.31-1.13-3.32M249.93 854l-4.5 0-3.38 1.1-1.12 1.11-1.13 2.21 0 1.1 1.13 1.1 1.12-1.1-1.12-1.1M249.93 854l3.37 1.1 1.13 2.21 0 3.31-1.13 2.22-3.37 1.1M249.93 854l2.25 1.1 1.12 2.21 0 3.31-1.12 2.22-2.25 1.1M249.93 863.94l-3.38 0" stroke-linecap="butt"/><path d="M249.93 877.2h0M249.93 854h0M249.93 863.94h0" stroke-linecap="round"/></g>
<g fill="none" stroke="#000" stroke-width="3" stroke-linejoin="round"><path d="M455.43 867.25l20.86 0M487.68 873.88l5.62 3.32 4.5 0 1.13-1.1 1.12-2.22M487.68 873.88l5.62 2.22 3.38 0 2.25-1.11 1.12-1.11M487.68 873.88l-2.25 0-1.13 1.11M489.93 867.25l5.62-2.2 3.38-2.21 1.12-2.22 0-2.2-1.12-2.21-1.13-1.11-3.37-1.1M494.43 854l-4.5 0-3.38 1.1-1.12 1.11-1.13 2.21 0 1.1 1.13 1.1 1.12-1.1-1.12-1.1M494.43 854l2.25 1.1 1.12 1.11 1.13 2.21 0 2.2-1.13 2.22-3.37 2.21-6.75 3.31-2.25 2.21-1.13 3.31 0 3.32M500.05 873.88l0-2.2" stroke-linecap="butt"/><path d="M487.68 873.88h0M500.05 873.88h0M494.43 854h0" stroke-linecap="round"/></g>
<g fill="none" stroke="#000" stroke-width="3" stroke-linejoin="round"><path d="M699.93 867.25l20.86 0M737.8 877.2l0-23.2-3.37 3.31-2.25 1.11M736.68 855.1l0 22.1M732.18 877.2l10.12 0" stroke-linecap="butt"/></g>
<g fill="none" stroke="#000" stroke-width="3" stroke-linejoin="round"><path d="M29.03 272.02l-21.57 12.96 0 4.32M9.73 284.98l21.57-12.96-23.84 0M7.46 286.06l23.84 0M31.3 289.3l0-6.48M7.46 275.26l0-6.48M15.41 248.62l15.89 0 0-4.5M31.3 247.5l-15.89 0 0 4.5M15.41 261l12.48 0 2.28-1.13 1.13-3.37M15.41 264.37l0-4.5 12.49 0 2.27-1.12 1.13-2.25M31.3 256.5l0-2.25-1.13-3.38-2.27-2.25M15.41 236.25l15.89 0M31.3 235.12l-15.89 0 0 4.5M31.3 223.87l-12.48 0-2.27 1.13-1.14 2.25M31.3 222.75l-12.48 0M18.82 222.75l-2.27-2.25-1.14-3.38 0-2.25M18.82 222.75l-2.27 1.12-1.14 3.38M31.3 211.5l-12.48 0-2.27 1.12-1.14 2.25M31.3 210.37l-12.48 0-2.27 1.13-1.14 3.37M31.3 239.62l0-7.87M31.3 227.25l0-7.88M31.3 214.87l0-7.87M15.41 227.25l0 2.25 1.14 3.37 2.27 2.25M7.47 199.12l23.83 0M31.3 198l-23.83 0 0 4.5M15.41 191.25l1.14-3.38 2.27-2.25 3.4-1.12 2.27 0 3.41 1.12 2.27 2.25 1.13 3.38M15.41 191.25l1.14-2.25 2.27-2.25 3.4-1.13 2.27 0 3.41 1.13 2.27 2.25 1.13 2.25M15.41 191.25l0 2.25 1.14 2.25 2.27 2.25M31.3 191.25l0 2.25-1.13 2.25-2.27 2.25M22.22 176.62l0-13.5-2.27 0-2.27 1.13-1.13 1.12M22.22 176.62l-3.4-1.12-2.27-2.25-1.14-2.25M22.22 176.62l2.27 0 3.41-1.12 2.27-2.25 1.13-2.25M15.41 171l1.14 3.37 2.27 2.25 3.4 1.13 2.27 0 3.41-1.13 2.27-2.25 1.13-3.37M15.41 171l0-3.38 1.14-2.25M31.3 171l0-2.25-1.13-3.38-2.27-2.25M22.22 164.25l-3.4 0-2.27 1.12M15.41 154.12l15.89 0M31.3 153l-15.89 0 0 4.5M31.3 157.5l0-7.88M22.22 153l-3.4-1.13-2.27-2.25-1.14-2.25 0-3.37 1.14-1.13 1.13 0 1.14 1.13-1.14 1.12-1.13-1.12" stroke-linecap="butt"/><path d="M31.3 256.5h0M18.82 222.75h0M15.41 214.87h0M15.41 227.25h0M31.3 191.25h0M15.41 191.25h0M16.55 165.37h0M31.3 171h0M15.41 171h0M22.22 176.62h0" stroke-linecap="round"/></g>
<g fill="none" stroke="#000" stroke-width="3" stroke-linejoin="round"><path d="M54.16 841.33l23.84 0M78 840.2l-23.84 0M54.16 844.7l0-13.5M54.16 831.2l1.14-3.37 1.14-1.13 2.26-1.12 2.28 0 2.26 1.12 1.14 1.13 1.14 3.37M54.16 831.2l1.14-2.25 1.14-1.12 2.26-1.13 2.28 0 2.26 1.13 1.14 1.12 1.14 2.25M65.52 840.2l0-9M78 844.7l0-7.87M65.52 834.58l1.13-2.25M66.65 832.33l2.27-1.13 7.94-2.25 1.14-1.12 0-2.25-2.27-1.13M66.65 832.33l1.13-1.13 7.95-3.37 1.13-1.13 0-1.12-1.13-1.13M75.73 824.45l-1.14 0M68.92 817.7l0-13.5-2.27 0-2.27 1.13-1.14 1.12M68.92 817.7l-3.4-1.12-2.28-2.25-1.13-2.25M68.92 817.7l2.27 0 3.4-1.12 2.27-2.25 1.14-2.25M62.11 812.08l1.13 3.37 2.28 2.25 3.4 1.13 2.27 0 3.4-1.13 2.27-2.25 1.14-3.37M62.11 812.08l0-3.38 1.13-2.25M78 812.08l0-2.25-1.14-3.38-2.27-2.25M68.92 805.33l-3.4 0-2.28 1.12M54.16 795.2l23.84 0M78 794.08l-23.84 0 0 4.5M78 798.58l0-7.88M64.38 772.7l10.21 0M64.38 772.7l2.27-1.12 7.94 0 2.27-1.13 1.14-1.12M64.38 772.7l-1.14 1.13-1.13 2.25 0 4.5 1.13 2.25 1.14 1.12 1.14 0 0-1.12-1.14 0M74.59 772.7l2.27 2.25 1.14 2.25 0 3.38M74.59 772.7l2.27-1.12 1.14-2.25M68.92 780.58l-1.14-6.75-1.13-1.13M68.92 780.58l1.14 3.37 2.27 1.13 2.26 0 2.27-1.13 1.14-3.37M68.92 780.58l1.14 2.25 2.27 1.12 2.26 0 2.27-1.12 1.14-2.25M78 769.33l0-1.13M54.16 760.33l19.3 0 3.4-1.13 1.14-2.25M54.16 759.2l19.3 0 3.4-1.12 1.14-1.13M62.11 763.7l0-9M78 756.95l0-2.25-1.14-2.25-2.27-1.12M62.11 743.45l15.89 0M78 742.33l-15.89 0 0 4.5M78 746.83l0-7.88M55.3 744.58l-1.14-1.13 1.14-1.12 1.14 1.12zM62.11 733.33l15.89-6.75-15.89-6.75M62.11 732.2l13.62-5.62M62.11 735.58l0-6.75M62.11 724.33l0-6.75M68.92 711.95l0-13.5-2.27 0-2.27 1.13-1.13 1.12M68.92 711.95l-3.4-1.12-2.27-2.25-1.14-2.25M68.92 711.95l2.27 0 3.41-1.12 2.27-2.25 1.13-2.25M62.11 706.33l1.14 3.37 2.27 2.25 3.4 1.13 2.27 0 3.41-1.13 2.27-2.25 1.13-3.37M62.11 706.33l0-3.38 1.14-2.25M78 706.33l0-2.25-1.13-3.38-2.27-2.25M68.92 699.58l-3.4 0-2.27 1.12M75.73 657.63l-21.56 12.97 0 4.32M56.44 670.6l21.56-12.97-23.83 0M54.17 671.68l23.83 0M78 674.92l0-6.48M54.17 660.88l0-6.49M62.11 634.24l15.89 0 0-4.5M78 633.11l-15.89 0 0 4.5M62.11 646.61l12.49 0 2.27-1.12 1.13-3.38M62.11 649.99l0-4.5 12.49 0 2.27-1.13 1.13-2.25M78 642.11l0-2.25-1.13-3.37-2.27-2.25M62.11 621.86l15.89 0M78 620.74l-15.89 0 0 4.5M78 609.49l-12.48 0-2.27 1.12-1.14 2.25M78 608.36l-12.48 0M65.52 608.36l-2.27-2.25-1.14-3.37 0-2.25M65.52 608.36l-2.27 1.13-1.14 3.37M78 597.11l-12.48 0-2.27 1.13-1.14 2.25M78 595.99l-12.48 0-2.27 1.12-1.14 3.38M78 625.24l0-7.88M78 612.86l0-7.87M78 600.49l0-7.88M62.11 612.86l0 2.25 1.14 3.38 2.27 2.25M54.17 584.74l23.83 0M78 583.61l-23.83 0 0 4.5M62.11 576.86l1.14-3.37 2.27-2.25 3.4-1.13 2.27 0 3.41 1.13 2.27 2.25 1.13 3.37M62.11 576.86l1.14-2.25 2.27-2.25 3.4-1.12 2.27 0 3.41 1.12 2.27 2.25 1.13 2.25M62.11 576.86l0 2.25 1.14 2.25 2.27 2.25M78 576.86l0 2.25-1.13 2.25-2.27 2.25M68.92 562.24l0-13.5-2.27 0-2.27 1.12-1.13 1.13M68.92 562.24l-3.4-1.13-2.27-2.25-1.14-2.25M68.92 562.24l2.27 0 3.41-1.13 2.27-2.25 1.13-2.25M62.11 556.61l1.14 3.38 2.27 2.25 3.4 1.12 2.27 0 3.41-1.12 2.27-2.25 1.13-3.38M62.11 556.61l0-3.37 1.14-2.25M78 556.61l0-2.25-1.13-3.37-2.27-2.25M68.92 549.86l-3.4 0-2.27 1.13M62.11 539.74l15.89 0M78 538.61l-15.89 0 0 4.5M78 543.11l0-7.87M68.92 538.61l-3.4-1.12-2.27-2.25-1.14-2.25 0-3.38 1.14-1.12 1.13 0 1.14 1.12-1.14 1.13-1.13-1.13" stroke-linecap="butt"/><path d="M54.16 831.2h0M75.73 824.45h0M66.65 832.33h0M65.52 831.2h0M63.24 806.45h0M78 812.08h0M62.11 812.08h0M68.92 817.7h0M64.38 772.7h0M78 780.58h0M74.59 772.7h0M78 769.33h0M68.92 780.58h0M78 756.95h0M63.25 700.7h0M78 706.33h0M62.11 706.33h0M68.92 711.95h0M78 642.11h0M62.11 612.86h0M65.52 608.36h0M62.11 600.49h0M78 576.86h0M62.11 576.86h0M62.11 556.61h0M68.92 562.24h0M63.25 550.99h0M78 556.61h0" stroke-linecap="round"/></g>
<g fill="none" stroke="#000" stroke-width="3" stroke-linejoin="round"><path d="M409.12 427.68l0 35.36M415.79 427.68l-7.79 0 0 35.36 7.79 0M424.7 432.1l0 23.2M425.81 432.1l0 23.2M421.36 432.1l17.81 0 0 6.63-1.12-6.63M432.49 438.73l0 8.83M421.36 455.3l7.79 0M425.81 443.15l6.68 0M445.84 446.46l13.36 0 0-2.21-1.11-2.21-1.12-1.1M445.84 446.46l1.12-3.31 2.22-2.21 2.23-1.11M445.84 446.46l0 2.21 1.12 3.32 2.22 2.2 2.23 1.11M451.41 439.83l-3.34 1.11-2.23 2.21-1.11 3.31 0 2.21 1.11 3.32 2.23 2.2 3.34 1.11M451.41 439.83l3.34 0 2.22 1.11M451.41 455.3l2.22 0 3.34-1.11 2.23-2.2M458.09 446.46l0-3.31-1.12-2.21M464.76 463.04l20.04-35.36M492.59 432.1l0 23.2M493.7 455.3l0-23.2M507.06 455.3l0-23.2M508.17 432.1l0 23.2M493.7 443.15l13.36 0M489.25 432.1l7.79 0M489.25 455.3l7.79 0M503.72 455.3l7.79 0M503.72 432.1l7.79 0M523.75 427.68l0 35.36M517.08 427.68l7.79 0 0 35.36-7.79 0" stroke-linecap="butt"/><path d="M451.41 439.83h0M456.97 440.94h0M445.84 446.46h0M451.41 455.3h0" stroke-linecap="round"/></g>
<g fill="none" stroke="#000" stroke-width="3" stroke-linejoin="round"><path d="M533.24 456.44l0 13.29M533.91 469.73l0-13.29-2.67 0M531.24 469.73l4.67 0M537.92 456.44l2 0.63 1.34 1.27 0.66 1.9 0 1.26-0.66 1.9-1.34 1.27-2 0.63M537.92 456.44l1.33 0.63 1.34 1.27 0.67 1.9 0 1.26-0.67 1.9-1.34 1.27-1.33 0.63M537.92 456.44l-1.34 0-1.34 0.63-1.33 1.27M537.92 465.3l-1.34 0-1.34-0.63-1.33-1.27M547.27 452.01l0 13.29M547.94 465.3l0-13.29-2.68 0M554.62 465.3l0-6.96-0.67-1.27-1.34-0.63M555.28 465.3l0-6.96-0.66-1.27-2.01-0.63M545.26 465.3l4.68 0M552.61 465.3l4.68 0M552.61 456.44l-1.33 0-2.01 0.63-1.33 1.27M564.64 456.44l-2.01 0.63-1.33 1.27-0.67 1.9 0 1.26 0.67 1.9 1.33 1.27 2.01 0.63M564.64 456.44l-1.34 0.63-1.34 1.27-0.66 1.9 0 1.26 0.66 1.9 1.34 1.27 1.34 0.63M564.64 456.44l1.33 0M564.64 465.3l1.33 0M565.97 465.3l2.01-0.63 1.33-1.27 0.67-1.9 0-1.26-0.67-1.9-1.33-1.27-2.01-0.63M565.97 465.3l1.34-0.63 1.33-1.27 0.67-1.9 0-1.26-0.67-1.9-1.33-1.27-1.34-0.63M575.32 452.01l0 10.76 0.67 1.9 1.34 0.63M575.99 452.01l0 10.76 0.67 1.9 0.67 0.63M573.32 456.44l5.34 0M577.33 465.3l1.33 0 1.34-0.63 0.67-1.27" stroke-linecap="butt"/><path d="M537.92 465.3h0M537.92 456.44h0M552.61 456.44h0M565.97 456.44h0M564.64 456.44h0M565.97 465.3h0M564.64 465.3h0M577.33 465.3h0" stroke-linecap="round"/></g>
<g fill="none" stroke="#000" stroke-width="3" stroke-linejoin="round"><path d="M410.76 897.58l0 35.36M417.44 897.58l-7.79 0 0 35.36 7.79 0M426.35 902l0 23.2M427.46 902l0 23.2M423.01 902l17.81 0 0 6.62-1.12-6.62M434.14 908.62l0 8.85M423.01 925.2l7.79 0M427.46 913.05l6.68 0M447.49 916.36l13.36 0 0-2.21-1.11-2.21-1.12-1.1M447.49 916.36l1.12-3.31 2.22-2.21 2.23-1.11M447.49 916.36l0 2.21 1.12 3.31 2.22 2.22 2.23 1.1M453.06 909.73l-3.34 1.11-2.23 2.21-1.11 3.31 0 2.21 1.11 3.31 2.23 2.22 3.34 1.1M453.06 909.73l3.34 0 2.22 1.11M453.06 925.2l2.22 0 3.34-1.1 2.23-2.22M459.74 916.36l0-3.31-1.12-2.21M466.41 932.94l20.04-35.36M494.24 902l0 23.2M495.35 925.2l0-23.2M508.71 925.2l0-23.2M509.82 902l0 23.2M495.35 913.05l13.36 0M490.9 902l7.79 0M490.9 925.2l7.79 0M505.37 925.2l7.79 0M505.37 902l7.79 0M525.4 897.58l0 35.36M518.73 897.58l7.79 0 0 35.36-7.79 0" stroke-linecap="butt"/><path d="M453.06 909.73h0M458.62 910.84h0M447.49 916.36h0M453.06 925.2h0" stroke-linecap="round"/></g>
<g fill="none" stroke="#000" stroke-width="3" stroke-linejoin="round"><path d="M535.09 921.87l0 10.79 0.66 1.91 1.34 0.63M535.75 921.87l0 10.79 0.67 1.91 0.67 0.63M533.08 926.31l5.34 0M537.09 935.2l1.33 0 1.33-0.63 0.67-1.27M545.09 926.31l0 8.89M545.76 935.2l0-8.89-2.67 0M543.09 935.2l4.67 0M545.76 930.12l0.66-1.9 1.34-1.27 1.33-0.64 2 0 0.67 0.64 0 0.63-0.67 0.64-0.66-0.64 0.66-0.63M563.77 926.31l0 8.89 2.66 0M564.43 935.2l0-8.89-2.67 0M556.43 926.31l0 6.99 0.67 1.27 2 0.63M554.43 926.31l2.67 0 0 6.99 0.66 1.27 1.34 0.63M559.1 935.2l1.33 0 2-0.63 1.34-1.27M570.44 930.12l8 0 0-1.27-0.67-1.27-0.66-0.63M570.44 930.12l0.66-1.9 1.34-1.27 1.33-0.64M570.44 930.12l0 1.27 0.66 1.91 1.34 1.27 1.33 0.63M573.77 926.31l-2 0.64-1.33 1.27-0.67 1.9 0 1.27 0.67 1.91 1.33 1.27 2 0.63M573.77 926.31l2 0 1.34 0.64M573.77 935.2l1.34 0 2-0.63 1.33-1.27M577.77 930.12l0-1.9-0.66-1.27" stroke-linecap="butt"/><path d="M537.09 935.2h0M559.1 935.2h0M573.77 935.2h0M577.11 926.95h0M573.77 926.31h0M570.44 930.12h0" stroke-linecap="round"/></g>
</g>
</svg>
</body></html>
